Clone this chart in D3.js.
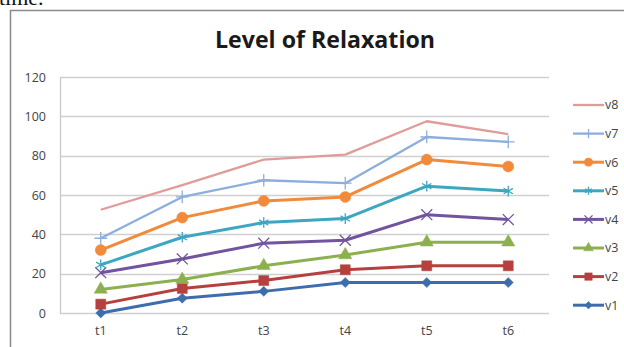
<!DOCTYPE html>
<html>
<head>
<meta charset="utf-8">
<script src="https://cdn.jsdelivr.net/npm/d3@7"></script>
<style>
  body { margin: 0; background: #fff; }
  svg { display: block; }
</style>
</head>
<body>
<script>
// categories and series (each series value is its own layer, the chart stacks them)
const categories = ['t1', 't2', 't3', 't4', 't5', 't6'];
const seriesNames = ['v1', 'v2', 'v3', 'v4', 'v5', 'v6', 'v7', 'v8'];
const v1 = [0, 7.5, 11, 15.5, 15.5, 15.5];
const v2 = [4.5, 5, 5.5, 6.5, 8.5, 8.5];
const v3 = [7.5, 4.5, 7.5, 7.5, 12, 12];
const v4 = [8.5, 10.5, 11.5, 7.5, 14, 11.5];
const v5 = [4, 11, 10.5, 11, 14.5, 14.5];
const v6 = [7.5, 10, 11, 11, 13.5, 12.5];
const v7 = [6, 10.5, 10.5, 7, 11.5, 12.5];
const v8 = [14.5, 6, 10.5, 14.5, 8, 4];
const yTicks = [0, 20, 40, 60, 80, 100, 120];

const seriesValues = [v1, v2, v3, v4, v5, v6, v7, v8];
const colors = ['#3E6DAE', '#B5403E', '#8DB04E', '#7153A0', '#3DA6C1', '#F18A3A', '#8CAEDD', '#E09C9A'];
const markers = ['diamond', 'square', 'triangle', 'x', 'asterisk', 'circle', 'plus', 'none'];

const width = 624, height = 347;
const margin = { left: 60, right: 75, top: 77, bottom: 34 };

const table = categories.map((c, i) => {
  const row = { cat: c };
  seriesNames.forEach((s, j) => { row[s] = seriesValues[j][i]; });
  return row;
});
const stacked = d3.stack().keys(seriesNames)(table);

const svg = d3.select('body').append('svg')
  .attr('width', width)
  .attr('height', height);

// bit of the document text above the chart box (cut off at the top, as in the source)
svg.append('text')
  .attr('x', -1).attr('y', 5)
  .style('font-family', '"Liberation Serif", serif')
  .style('font-size', '22px')
  .attr('fill', '#111')
  .text('time.');

// chart frame
svg.append('rect')
  .attr('x', 10.5).attr('y', 10.5)
  .attr('width', 700).attr('height', 400)
  .attr('fill', '#fff')
  .attr('stroke', '#8a8a8a')
  .attr('stroke-width', 1.5);

svg.append('text')
  .attr('x', 325).attr('y', 48)
  .attr('text-anchor', 'middle')
  .attr('textLength', 220)
  .attr('lengthAdjust', 'spacingAndGlyphs')
  .style('font-family', '"Open Sans", sans-serif')
  .style('font-weight', 'bold')
  .style('font-size', '23px')
  .attr('fill', '#1a1a1a')
  .text('Level of Relaxation');

const x = d3.scaleBand()
  .domain(categories)
  .range([margin.left, 549]);

const y = d3.scaleLinear()
  .domain([0, 120])
  .range([313, margin.top]);

// gridlines
svg.append('g')
  .selectAll('line')
  .data(yTicks)
  .enter()
  .append('line')
  .attr('x1', margin.left).attr('x2', 549)
  .attr('y1', d => Math.round(y(d)) + 0.5)
  .attr('y2', d => Math.round(y(d)) + 0.5)
  .attr('stroke', '#d0d0d0')
  .attr('stroke-width', 1.3);

svg.append('line')
  .attr('x1', margin.left + 0.5).attr('x2', margin.left + 0.5)
  .attr('y1', y(120)).attr('y2', y(0) + 1)
  .attr('stroke', '#c8c8c8')
  .attr('stroke-width', 1.3);

const yAxis = svg.append('g')
  .attr('transform', `translate(${margin.left - 14},0)`)
  .call(d3.axisLeft(y).tickValues(yTicks).tickSize(0).tickPadding(0));
yAxis.select('.domain').remove();
yAxis.selectAll('text')
  .style('font-family', '"Open Sans", sans-serif')
  .style('font-size', '12.5px')
  .attr('fill', '#444');

const xAxis = svg.append('g')
  .attr('transform', `translate(0,${y(0) + 13})`)
  .call(d3.axisBottom(x).tickSize(0).tickPadding(0));
xAxis.select('.domain').remove();
xAxis.selectAll('text')
  .attr('dy', '0.71em')
  .style('font-family', '"Open Sans", sans-serif')
  .style('font-size', '12.5px')
  .attr('fill', '#444');

const px = c => x(c) + x.bandwidth() / 2;

const line = d3.line()
  .x(d => px(d.data.cat))
  .y(d => y(d[1]));

function markerPath(type, size) {
  const s = size;
  switch (type) {
    case 'diamond': return d3.symbol(d3.symbolSquare, s * 0.5)();
    case 'square': return d3.symbol(d3.symbolSquare, s)();
    case 'triangle': return d3.symbol(d3.symbolTriangle, s * 0.75)();
    case 'circle': return d3.symbol(d3.symbolCircle, s * 0.95)();
    case 'x': return d3.symbol(d3.symbolX, s * 0.8)();
    case 'asterisk': return d3.symbol(d3.symbolAsterisk, s * 0.8)();
    case 'plus': return d3.symbol(d3.symbolPlus, s * 0.55)();
  }
  return null;
}

function drawMarker(g, type, color, cx, cy, size) {
  if (type === 'none') return;
  const stroked = type === 'x' || type === 'asterisk' || type === 'plus';
  g.append('path')
    .attr('d', markerPath(type, size))
    .attr('transform', `translate(${cx},${cy})` + (type === 'diamond' ? ' rotate(45)' : ''))
    .attr('fill', stroked ? 'none' : color)
    .attr('stroke', color)
    .attr('stroke-width', stroked ? 1.3 : 0.5);
}

const seriesG = svg.append('g');
stacked.forEach((layer, i) => {
  const g = seriesG.append('g');
  g.append('path')
    .datum(layer)
    .attr('d', line)
    .attr('fill', 'none')
    .attr('stroke', colors[i])
    .attr('stroke-width', i >= 6 ? 2.3 : 3)
    .attr('stroke-linejoin', 'round');
  layer.forEach(d => {
    drawMarker(g, markers[i], colors[i], px(d.data.cat), y(d[1]), 100);
  });
});

// legend, top to bottom v8 .. v1
const legendNames = seriesNames.slice().reverse();
const legend = svg.selectAll('.legend')
  .data(legendNames)
  .enter()
  .append('g')
  .attr('class', 'legend')
  .attr('transform', (d, i) => `translate(573,${105 + i * 28.6})`);

legend.each(function(d) {
  const k = seriesNames.indexOf(d);
  const g = d3.select(this);
  g.append('line')
    .attr('x1', 0).attr('x2', 31)
    .attr('stroke', colors[k])
    .attr('stroke-width', k >= 6 ? 2.3 : 3);
  drawMarker(g, markers[k], colors[k], 15.5, 0, 55);
  g.append('text')
    .attr('x', 32)
    .attr('dy', '0.35em')
    .style('font-family', '"Open Sans", sans-serif')
    .style('font-size', '12.5px')
    .attr('fill', '#444')
    .text(d);
});
</script>
</body>
</html>
